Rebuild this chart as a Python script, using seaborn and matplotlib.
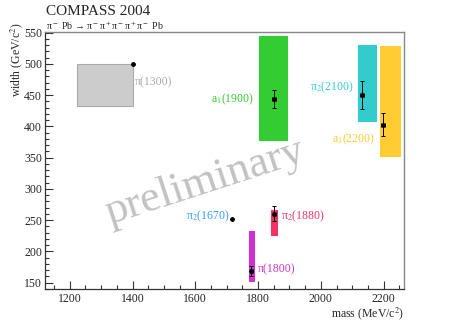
import numpy as np
import pandas as pd
import matplotlib
matplotlib.use('Agg')
import matplotlib.pyplot as plt
import seaborn as sns

# resonances: measured point (mass, width) with errors
names = ['π(1300)', 'π$_2$(1670)', 'π(1800)', 'π$_2$(1880)', 'a$_1$(1900)', 'π$_2$(2100)', 'a$_1$(2200)']
mass = [1400, 1717, 1778, 1852, 1851, 2130, 2197]
width = [500, 252, 168, 260, 444, 450, 403]
mass_err = [0, 0, 5, 5, 6, 6, 6]
width_err = [0, 0, 8, 12, 15, 22, 18]

# PDG ranges (boxes); None where no box is drawn
box_mlo = [1222, None, 1771, 1841, 1803, 2117, 2187]
box_mhi = [1400, None, 1787, 1859, 1892, 2175, 2253]
box_wlo = [433, None, 152, 227, 379, 409, 352]
box_whi = [500, None, 232, 267, 544, 531, 529]

colors = ['#cccccc', '#3399ff', '#cc33cc', '#ee3366', '#33cc33', '#33cccc', '#ffcc33']
label_x = [1406, 1708, 1800, 1872, 1787, 2105, 2171]
label_y = [470, 256, 171, 256, 444, 462, 379]
label_ha = ['left', 'right', 'left', 'left', 'right', 'right', 'right']

df = pd.DataFrame({'name': names, 'mass': mass, 'width': width})

sns.set_style('ticks')
plt.rcParams['font.family'] = ['Liberation Serif', 'DejaVu Serif']
plt.rcParams['mathtext.fontset'] = 'stix'

fig = plt.figure(figsize=(4.49, 3.22), dpi=100)
ax = fig.add_axes([0.1, 0.1025, 0.8, 0.798])

# boxes
for i in range(len(names)):
    if box_mlo[i] is None:
        continue
    edge = '#aaaaaa' if i == 0 else colors[i]
    ax.bar(box_mlo[i], box_whi[i] - box_wlo[i], width=box_mhi[i] - box_mlo[i],
           bottom=box_wlo[i], align='edge', color=colors[i], edgecolor=edge,
           linewidth=0.8, zorder=2)

ax.errorbar(mass, width, xerr=mass_err, yerr=width_err, fmt='none',
            ecolor='black', elinewidth=0.7, capsize=1.5, capthick=0.7, zorder=3)
sns.scatterplot(data=df, x='mass', y='width', color='black', s=12,
                edgecolor='black', linewidth=0, ax=ax, zorder=4, legend=False)

for i in range(len(names)):
    ax.text(label_x[i], label_y[i], names[i], color=colors[i] if i else '#aaaaaa',
            ha=label_ha[i], va='center', fontsize=8.5)

ax.text(1629, 311, 'preliminary', color='#bbbbbb', fontsize=32, rotation=18,
        rotation_mode='anchor', ha='center', va='center', alpha=0.9, zorder=1)

ax.set_xlim(1121, 2265)
ax.set_ylim(140, 551)
ax.set_xticks(np.arange(1200, 2201, 200))
ax.set_xticks(np.arange(1150, 2265, 50), minor=True)
ax.set_yticks(np.arange(150, 551, 50))
ax.set_yticks(np.arange(140, 551, 10), minor=True)
ax.tick_params(axis='both', which='major', direction='in', length=6, width=0.8,
               labelsize=8.5, color='#333333', top=False, right=False)
ax.tick_params(axis='both', which='minor', direction='in', length=3, width=0.8,
               color='#333333', top=False, right=False)
ax.tick_params(axis='x', pad=3)
ax.tick_params(axis='y', pad=2)
for s in ['top', 'right']:
    ax.spines[s].set_color('#888888')
    ax.spines[s].set_linewidth(1.0)
for s in ['left', 'bottom']:
    ax.spines[s].set_color('#333333')
    ax.spines[s].set_linewidth(0.9)

ax.set_xlabel('')
ax.set_ylabel('')
fig.text(0.9, 0.014, 'mass (MeV/c$^2$)', ha='right', va='baseline', fontsize=8.5)
fig.text(0.018, 0.93, 'width (GeV/c$^2$)', ha='left', va='top', rotation=90, fontsize=8.5)
fig.text(0.102, 0.952, 'COMPASS 2004', ha='left', va='baseline', fontsize=11)
fig.text(0.102, 0.908, 'π$^-$ Pb → π$^-$π$^+$π$^-$π$^+$π$^-$ Pb', ha='left', va='baseline',
         fontsize=7.2)

fig.savefig('out.png', dpi=100)
